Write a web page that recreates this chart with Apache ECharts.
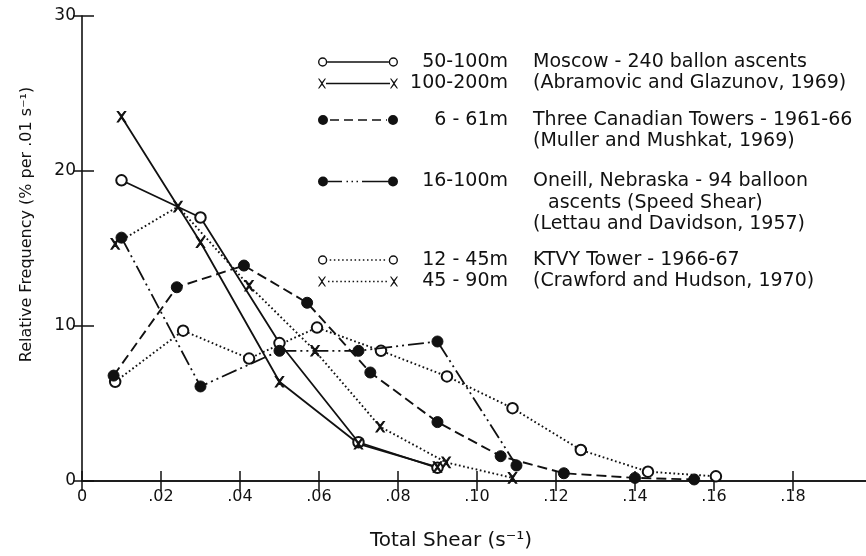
<!DOCTYPE html>
<html><head><meta charset="utf-8">
<script src="https://cdn.jsdelivr.net/npm/echarts@6/dist/echarts.min.js"></script>
<style>html,body{margin:0;padding:0;background:#fff}#c{width:866px;height:556px}</style>
</head><body><div id="c"></div>
<script>
// ---------- data ----------
const seriesNames = ['50-100m', '100-200m', '6 - 61m', '16-100m', '12 - 45m', '45 - 90m'];
const descLines = [
  ['Moscow - 240 ballon ascents'],
  ['(Abramovic and Glazunov, 1969)'],
  ['Three Canadian Towers - 1961-66', '(Muller and Mushkat, 1969)'],
  ['Oneill, Nebraska - 94 balloon', 'ascents (Speed Shear)', '(Lettau and Davidson, 1957)'],
  ['KTVY Tower - 1966-67'],
  ['(Crawford and Hudson, 1970)']
];
const moscowX = [0.01, 0.03, 0.05, 0.07, 0.09];
const moscowY = [19.4, 17.0, 8.9, 2.5, 0.85];
const abramX = [0.01, 0.03, 0.05, 0.07, 0.09];
const abramY = [23.5, 15.4, 6.4, 2.4, 0.9];
const canadaX = [0.008, 0.024, 0.041, 0.057, 0.073, 0.090, 0.106, 0.122, 0.140, 0.155];
const canadaY = [6.8, 12.5, 13.9, 11.5, 7.0, 3.8, 1.6, 0.5, 0.2, 0.1];
const oneillX = [0.01, 0.03, 0.05, 0.07, 0.09, 0.11];
const oneillY = [15.7, 6.1, 8.4, 8.4, 9.0, 1.0];
const ktvyLowX = [0.0084, 0.0256, 0.0423, 0.0595, 0.0757, 0.0924, 0.109, 0.1263, 0.1433, 0.1605];
const ktvyLowY = [6.4, 9.7, 7.9, 9.9, 8.4, 6.75, 4.7, 2.0, 0.6, 0.3];
const ktvyHighX = [0.0084, 0.0243, 0.0423, 0.059, 0.0755, 0.0922, 0.109];
const ktvyHighY = [15.3, 17.7, 12.6, 8.4, 3.5, 1.2, 0.2];
const xTickValues = [0, 0.02, 0.04, 0.06, 0.08, 0.10, 0.12, 0.14, 0.16, 0.18];

// ---------- styling ----------
const INK = '#111';
const FONT = 'DejaVu Sans';
const LEG_FS = 19, LEG_LH = 21.5;
const X_SYMBOL = 'path://M0,0L1.2,0L4,3.6L6.8,0L8,0L4.7,5L8,10L6.8,10L4,6.4L1.2,10L0,10L3.3,5Z';
const DOTTED = [1.7, 2.6];
const styles = [
  {symbol: 'emptyCircle', size: 10.5, line: 'solid', width: 1.8},
  {symbol: X_SYMBOL, size: [8.5, 10.5], line: 'solid', width: 1.8},
  {symbol: 'circle', size: 11, line: [10, 5], width: 1.9},
  {symbol: 'circle', size: 11, line: [16, 4, 2, 4, 2, 4], width: 1.8},
  {symbol: 'emptyCircle', size: 10.5, line: DOTTED, width: 1.9},
  {symbol: X_SYMBOL, size: [8.5, 10.5], line: DOTTED, width: 1.9}
];
const xs = [moscowX, abramX, canadaX, oneillX, ktvyLowX, ktvyHighX];
const ys = [moscowY, abramY, canadaY, oneillY, ktvyLowY, ktvyHighY];

// legend icons (sample line with a symbol at each end)
function seg(a, b) { return `M${a},4.2L${b},4.2L${b},5.8L${a},5.8Z`; }
function pat(a, b, on, off) { let p = ''; for (let x = a; x < b; x += on + off) p += seg(x, Math.min(x + on, b)); return p; }
function ring(cx) { const r = 4.6, q = 3.2; return `M${cx - r},5A${r},${r} 0 1,1 ${cx + r},5A${r},${r} 0 1,1 ${cx - r},5ZM${cx - q},5A${q},${q} 0 1,0 ${cx + q},5A${q},${q} 0 1,0 ${cx - q},5Z`; }
function disc(cx) { const r = 5; return `M${cx - r},5A${r},${r} 0 1,1 ${cx + r},5A${r},${r} 0 1,1 ${cx - r},5Z`; }
function xm(cx) { const a = cx - 4; return `M${a},0L${a + 1.2},0L${a + 4},3.6L${a + 6.8},0L${a + 8},0L${a + 4.7},5L${a + 8},10L${a + 6.8},10L${a + 4},6.4L${a + 1.2},10L${a},10L${a + 3.3},5Z`; }
const iconPaths = [
  ring(5) + seg(9.6, 70.4) + ring(75),
  xm(4) + seg(8, 72) + xm(76),
  disc(5) + pat(12, 69, 9, 5) + disc(75),
  disc(5) + seg(10, 24) + seg(28.5, 30) + seg(33.5, 35) + seg(38.5, 40) + seg(44, 70) + disc(75),
  ring(5) + pat(12, 69, 1.5, 2.6) + ring(75),
  xm(4) + pat(10, 71, 1.5, 2.6) + xm(76)
];

// legend text layout (range column right-aligned)
const mctx = document.createElement('canvas').getContext('2d');
mctx.font = `${LEG_FS}px "${FONT}"`;
const RANGE_COL = 105, DESC_GAP = 25;
const base = {fontSize: LEG_FS, fontFamily: FONT, color: INK, lineHeight: LEG_LH};
const rich = {
  d: Object.assign({}, base, {padding: [0, 0, 0, DESC_GAP]}),
  c: Object.assign({}, base, {padding: [0, 0, 0, RANGE_COL + DESC_GAP]}),
  ci: Object.assign({}, base, {padding: [0, 0, 0, RANGE_COL + DESC_GAP + 15]}),
  b: Object.assign({}, base)
};
seriesNames.forEach((n, i) => {
  const w = mctx.measureText(n).width;
  rich['r' + i] = Object.assign({}, base, {padding: [0, 0, 0, Math.max(0, RANGE_COL - w)]});
});
function legendText(name) {
  const i = seriesNames.indexOf(name);
  const lines = descLines[i];
  let s = '{b| }\n'.repeat(lines.length - 1);
  s += `{r${i}|${name}}{d|${lines[0]}}`;
  for (let j = 1; j < lines.length; j++) {
    s += `\n{${(i === 3 && j === 1) ? 'ci' : 'c'}|${lines[j]}}`;
  }
  return s;
}
function makeLegend(indices, top) {
  return {
    orient: 'vertical', left: 318, top: top, padding: 0, itemGap: 0,
    itemWidth: 80, itemHeight: 10, selectedMode: false,
    data: indices.map(i => ({
      name: seriesNames[i], icon: 'path://' + iconPaths[i],
      itemStyle: {color: INK, borderColor: INK, borderWidth: 0}
    })),
    formatter: legendText,
    textStyle: Object.assign({}, base, {rich: rich})
  };
}

const tickFmt = v => v === 0 ? '0' : v.toFixed(2).replace(/^0/, '');
const axisLineStyle = {lineStyle: {color: INK, width: 1.6}};

const option = {
  animation: false,
  backgroundColor: '#fff',
  grid: {left: 82, right: 0, top: 16, bottom: 74},
  legend: [
    makeLegend([0, 1], 51.25),
    makeLegend([2], 87.75),
    makeLegend([3], 127.75),
    makeLegend([4, 5], 249.25)
  ],
  xAxis: [
    {
      type: 'value', min: 0, max: 0.1985, position: 'bottom',
      axisLine: axisLineStyle,
      axisTick: {inside: true, length: 10, customValues: xTickValues, lineStyle: {color: INK, width: 1.5}},
      axisLabel: {customValues: xTickValues, formatter: tickFmt, fontSize: 16, fontFamily: FONT, color: INK, margin: 8},
      splitLine: {show: false},
      name: 'Total Shear (s⁻¹)', nameLocation: 'middle', nameGap: 50,
      nameTextStyle: {fontSize: 20, fontFamily: FONT, color: INK, padding: [0, 46, 0, 0]}
    },
    {
      type: 'value', min: 0, max: 0.1985, position: 'top',
      axisLine: axisLineStyle,
      axisTick: {inside: true, length: 10, customValues: xTickValues, lineStyle: {color: INK, width: 1.5}},
      axisLabel: {show: false}, splitLine: {show: false}
    }
  ],
  yAxis: [
    {
      type: 'value', min: 0, max: 30, interval: 10, position: 'left',
      axisLine: {show: true, lineStyle: {color: INK, width: 1.6}},
      axisTick: {show: true, inside: true, length: 12, lineStyle: {color: INK, width: 1.5}},
      axisLabel: {fontSize: 17, fontFamily: FONT, color: INK, margin: 6},
      splitLine: {show: false},
      name: 'Relative Frequency (% per .01 s⁻¹)', nameLocation: 'middle', nameGap: 47,
      nameTextStyle: {fontSize: 16, fontFamily: FONT, color: INK, padding: [0, 0, 0, 48]}
    },
    {
      type: 'value', min: 0, max: 30, interval: 10, position: 'right',
      axisLine: {show: false},
      axisTick: {show: true, inside: true, length: 9, lineStyle: {color: INK, width: 1.5}},
      axisLabel: {show: false}, splitLine: {show: false}
    }
  ],
  series: seriesNames.map((name, i) => ({
    name: name, type: 'line',
    xAxisIndex: 0, yAxisIndex: 0,
    data: xs[i].map((x, k) => [x, ys[i][k]]),
    symbol: styles[i].symbol, symbolSize: styles[i].size,
    showAllSymbol: true,
    itemStyle: {color: INK, borderColor: INK},
    lineStyle: {color: INK, width: styles[i].width, type: styles[i].line},
    emphasis: {disabled: true},
    z: i < 4 ? 3 : 2
  }))
};

const chart = echarts.init(document.getElementById('c'), null, {renderer: 'canvas'});
chart.setOption(option);
</script>
</body></html>
